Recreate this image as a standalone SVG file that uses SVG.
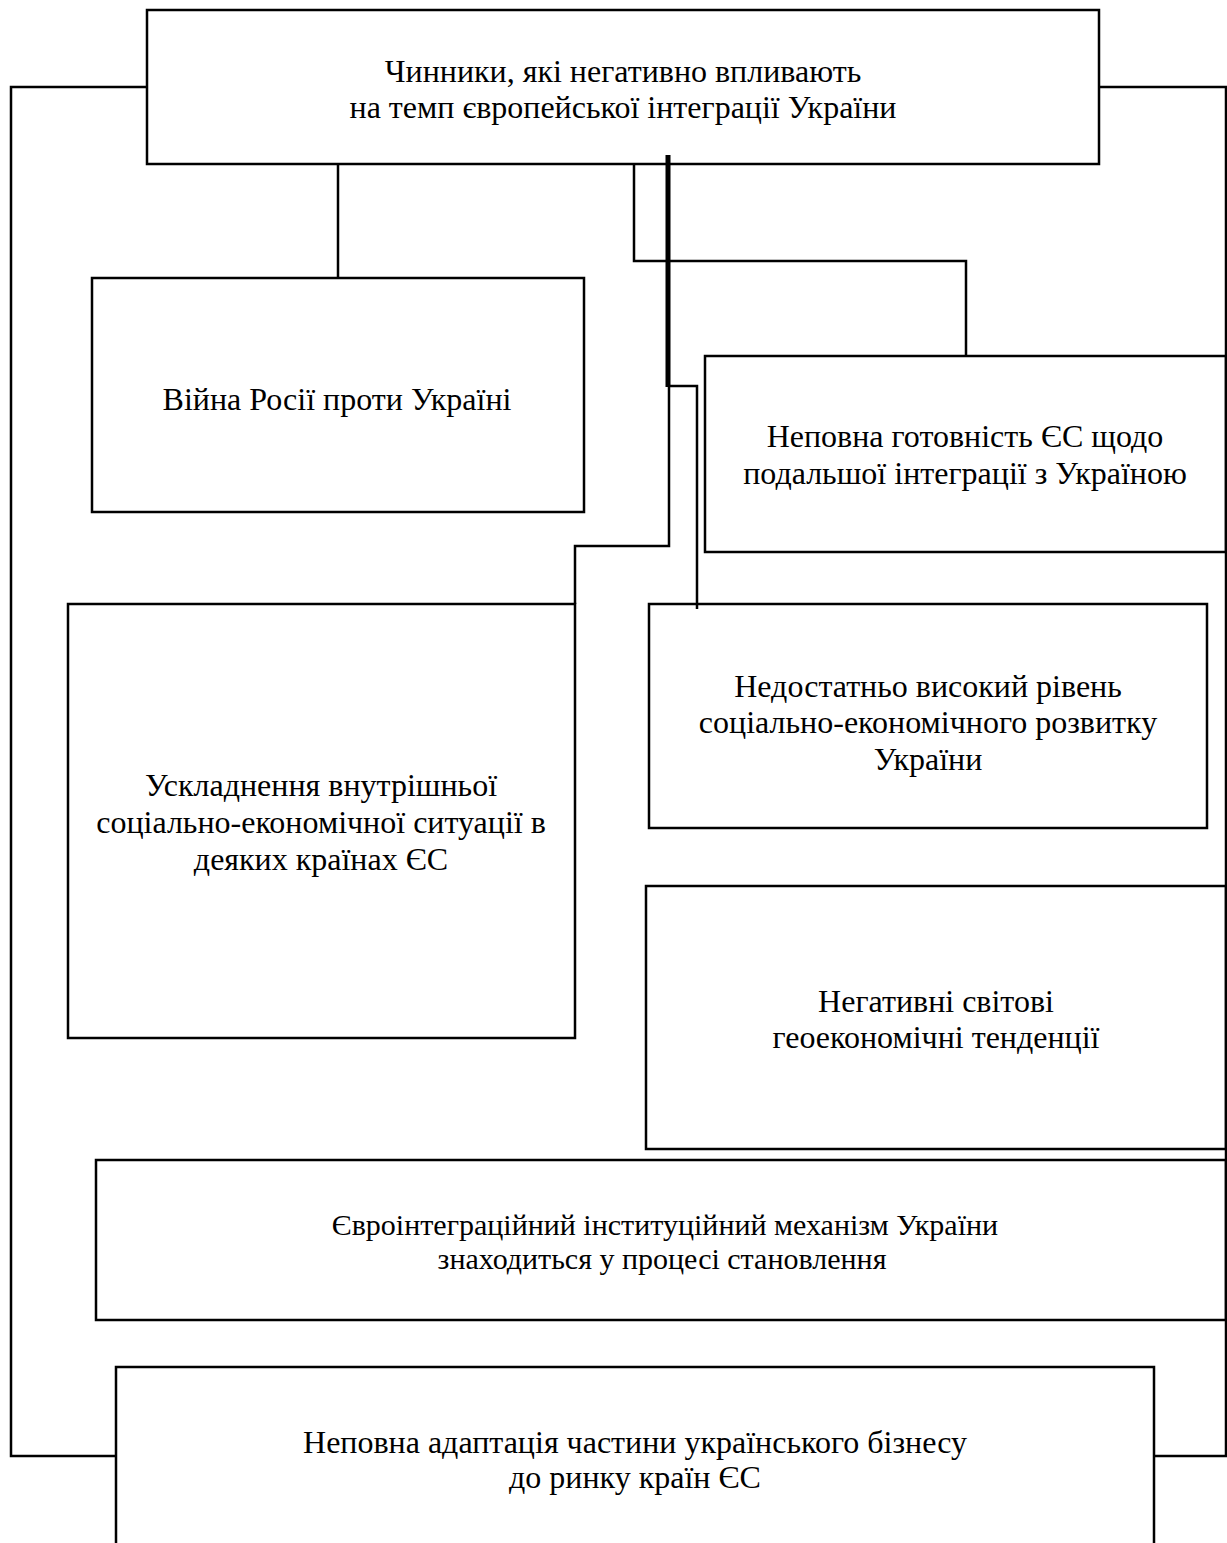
<svg xmlns="http://www.w3.org/2000/svg" width="1227" height="1543" viewBox="0 0 1227 1543">
<style>
.box{fill:#fff;stroke:#000;stroke-width:2.5}
.ln{fill:none;stroke:#000;stroke-width:2.5}
.thick{fill:none;stroke:#000;stroke-width:5}
text{font-family:"Liberation Serif","Times New Roman",serif;font-size:32px;fill:#000;text-anchor:middle}
</style>
<rect width="1227" height="1543" fill="#fff"/>
<g id="n0"><rect class="box" x="147" y="10" width="952" height="154"/>
<text x="623" y="82">Чинники, які негативно впливають</text>
<text x="623" y="118">на темп європейської інтеграції України</text></g>
<g id="n1"><rect class="box" x="92" y="278" width="492" height="234"/>
<text x="337" y="410">Війна Росії проти Україні</text></g>
<g id="n2"><rect class="box" x="705" y="356" width="521" height="196"/>
<text x="965" y="447">Неповна готовність ЄС щодо</text>
<text x="965" y="484">подальшої інтеграції з Україною</text></g>
<g id="n3"><rect class="box" x="68" y="604" width="507" height="434"/>
<text x="321" y="796">Ускладнення внутрішньої</text>
<text x="321" y="833">соціально-економічної ситуації в</text>
<text x="321" y="870">деяких країнах ЄС</text></g>
<g id="n4"><rect class="box" x="649" y="604" width="558" height="224"/>
<text x="928" y="697">Недостатньо високий рівень</text>
<text x="928" y="733">соціально-економічного розвитку</text>
<text x="928" y="770">України</text></g>
<g id="n5"><rect class="box" x="646" y="886" width="580" height="263"/>
<text x="936" y="1012">Негативні світові</text>
<text x="936" y="1048">геоекономічні тенденції</text></g>
<g id="n6"><rect class="box" x="96" y="1160" width="1130" height="160"/>
<text x="665" y="1235" style="font-size:30px">Євроінтеграційний інституційний механізм України</text>
<text x="662" y="1269" style="font-size:30px">знаходиться у процесі становлення</text></g>
<g id="n7"><path class="ln" d="M116,1545 L116,1367 L1154,1367 L1154,1545"/>
<text x="635" y="1453">Неповна адаптація частини українського бізнесу</text>
<text x="635" y="1488">до ринку країн ЄС</text></g>
<g id="connectors">
<polyline class="ln" points="147,87 11,87 11,1456 116,1456"/>
<polyline class="ln" points="1099,87 1226,87 1226,1456 1154,1456"/>
<polyline class="ln" points="338,164 338,278"/>
<polyline class="ln" points="634,164 634,261 966,261 966,356"/>
<polyline class="thick" points="668,155 668,387"/>
<polyline class="ln" points="669,387 669,546 575,546 575,604"/>
<polyline class="ln" points="668,386 697,386 697,609"/>
</g>
</svg>
